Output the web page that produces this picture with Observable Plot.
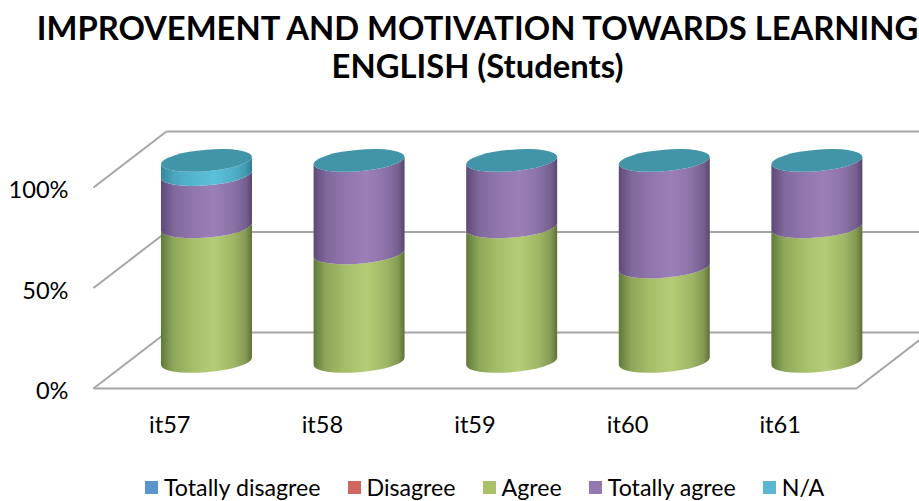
<!DOCTYPE html>
<html><head><meta charset="utf-8">
<script src="https://cdn.jsdelivr.net/npm/d3@7"></script>
<script src="https://cdn.jsdelivr.net/npm/@observablehq/plot@0.6"></script>
<style>
html,body{margin:0;padding:0;background:#fff;overflow:hidden;width:919px;height:501px;font-family:Lato,sans-serif;color:#000}
#title{height:100px;box-sizing:border-box;padding-top:9px;font-weight:700;font-size:32.75px;line-height:38px;text-align:center;white-space:nowrap;width:955px}
#chart{height:365px}
#chart svg{display:block}
#legend{position:absolute;left:145px;top:473px;display:flex;gap:27px;font-size:23.2px;line-height:28px;white-space:nowrap}
#legend div{display:flex;align-items:center;gap:6px}
#legend i{display:block;width:13px;height:13px}
</style></head>
<body>
<div id="title">IMPROVEMENT AND MOTIVATION TOWARDS LEARNING<br>ENGLISH (Students)</div>
<div id="chart"></div>
<div id="legend"></div>
<script>
const items = ["it57","it58","it59","it60","it61"];
const totallyDisagree = [0,0,0,0,0];
const disagree = [0,0,0,0,0];
const agree = [67,54,67,47,67];
const totallyAgree = [26,46,33,53,33];
const na = [7,0,0,0,0];
const seriesNames = ["Totally disagree","Disagree","Agree","Totally agree","N/A"];
const seriesValues = [totallyDisagree,disagree,agree,totallyAgree,na];
const seriesColors = ["#5b93cc","#cd6760","#a9c26a","#9279b1","#5ab8d2"];
const gradients = [
  ["#3f6a99","#6a9bd0","#3f6a99"],
  ["#94433f","#d0706a","#94433f"],
  ["#5f7a3a","#b4cd75","#5f7038"],
  ["#5d4a78","#9b80b8","#574670"],
  ["#37869c","#5cc0da","#2f7c90"]
];
const topColor = "#4295a9";
const ticksY = [0,50,100];
const depthX = 0.478, depthY = 27.9;
const rightEdge = 5.413;

const rx = 45.5, ry = 10.8, skew = -3.6;

function cylinders(index, {x, y}) {
  const ns = "http://www.w3.org/2000/svg";
  const g = document.createElementNS(ns, "g");
  const defs = document.createElementNS(ns, "defs");
  gradients.forEach((c, k) => {
    const lg = document.createElementNS(ns, "linearGradient");
    lg.setAttribute("id", "grad" + k);
    [[0,c[0]],[0.14,d3.interpolateRgb(c[0],c[1])(0.55)],[0.35,d3.interpolateRgb(c[0],c[1])(0.82)],[0.58,c[1]],[0.8,d3.interpolateRgb(c[2],c[1])(0.75)],[0.93,d3.interpolateRgb(c[2],c[1])(0.45)],[1,c[2]]]
      .forEach(([o, col]) => {
        const s = document.createElementNS(ns, "stop");
        s.setAttribute("offset", o); s.setAttribute("stop-color", col);
        lg.appendChild(s);
      });
    defs.appendChild(lg);
  });
  g.appendChild(defs);
  items.forEach((name, i) => {
    const cx = x(i + 0.5 + depthX / 2) + 0.7;
    const sg = document.createElementNS(ns, "g");
    sg.setAttribute("transform", `matrix(1,${skew / rx},0,1,${cx},0)`);
    let acc = 0;
    const y0 = 13.2;
    seriesValues.forEach((vals, k) => {
      const v = vals[i];
      if (!v) return;
      const lo = y(y0 + acc), hi = y(y0 + acc + v);
      acc += v;
      const p = document.createElementNS(ns, "path");
      p.setAttribute("d", `M${-rx},${lo}A${rx},${ry} 0 0 0 ${rx},${lo}L${rx},${hi}A${rx},${ry} 0 0 1 ${-rx},${hi}Z`);
      p.setAttribute("fill", `url(#grad${k})`);
      sg.appendChild(p);
    });
    const e = document.createElementNS(ns, "ellipse");
    e.setAttribute("cx", 0); e.setAttribute("cy", y(y0 + acc));
    e.setAttribute("rx", rx); e.setAttribute("ry", ry);
    e.setAttribute("fill", topColor);
    sg.appendChild(e);
    g.appendChild(sg);
  });
  return g;
}

const lineStyle = {stroke: "#a6a6a6", strokeWidth: 2};
const plot = Plot.plot({
  width: 919, height: 365,
  marginLeft: 93, marginRight: 63, marginTop: 87, marginBottom: 77,
  style: {fontFamily: "Lato, sans-serif", fontSize: "23.6px", color: "#000", background: "transparent", overflow: "hidden"},
  x: {domain: [0, items.length]},
  y: {domain: [0, 100]},
  marks: [
    Plot.link(ticksY, {x1: depthX, x2: rightEdge, y1: d => d + depthY, y2: d => d + depthY, ...lineStyle}),
    Plot.link(ticksY, {x1: 0, x2: depthX, y1: d => d, y2: d => d + depthY, ...lineStyle}),
    Plot.link([0], {x1: 0, x2: items.length, y1: d => d, y2: d => d, ...lineStyle}),
    Plot.link([0], {x1: items.length, x2: rightEdge, y1: d => d, y2: d => d + (rightEdge - items.length) / depthX * depthY, ...lineStyle}),
    cylinders,
    Plot.axisY({ticks: ticksY, tickFormat: d => d + "%", tickSize: 0, tickPadding: 25, label: null, dy: 3}),
    Plot.axisX({ticks: items.map((_, i) => i + 0.5), tickFormat: d => items[d - 0.5], tickSize: 0, tickPadding: 28, label: null})
  ]
});
document.getElementById("chart").appendChild(plot);

const legend = document.getElementById("legend");
seriesNames.forEach((n, k) => {
  const d = document.createElement("div");
  const sw = document.createElement("i");
  sw.style.background = seriesColors[k];
  const t = document.createElement("span");
  t.textContent = n;
  d.append(sw, t);
  legend.appendChild(d);
});
</script>
</body></html>
